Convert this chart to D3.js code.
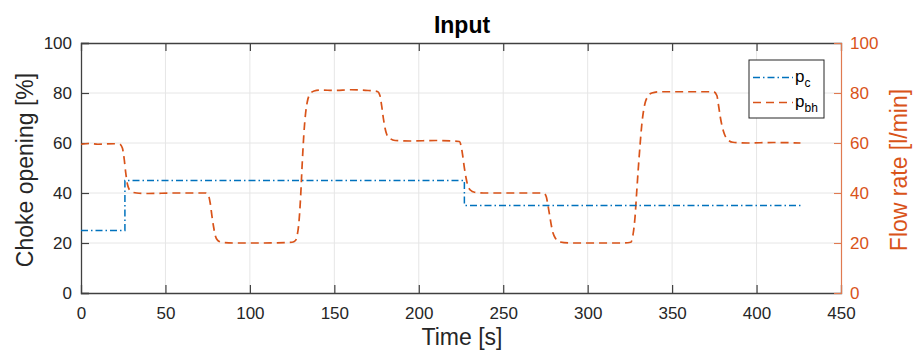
<!DOCTYPE html>
<html><head><meta charset="utf-8">
<script src="https://cdn.jsdelivr.net/npm/d3@7"></script>
<style>body{margin:0;background:#fff}svg{display:block}text{font-family:"Liberation Sans",Arial,sans-serif}</style>
</head><body><svg id="c" width="920" height="352"></svg>
<script>
const xTicks = [0,50,100,150,200,250,300,350,400,450];
const yTicks = [0,20,40,60,80,100];
const pcTime = [0,26,26,227,227,426];
const pcValue = [25,25,45,45,35,35];
const pbhTime = [0,5,10,20,23,24.5,25.5,26.5,27.5,28.5,30,33,40,55,74,75.5,76.5,77.5,78.5,79.5,81,84,90,105,125,127,128,129,130,131,132,133,134,135.5,138,142,150,160,170,175.5,177,178,179,180,181,183,186,195,210,224,225,226,227,228,229,230.5,233,240,255,274,275.5,276.5,277.5,278.5,279.5,281,283,290,300,320,325.5,327,328,329,330,331,332,333,334,335.5,338,342,360,374.5,376.5,377.5,378.5,379.5,381,383,386,395,410,426];
const pbhValue = [59.5,59.8,59.5,59.7,59.5,58,54,48,43.5,41.5,40.5,40,39.8,40,40,39,36,31,26.5,23,21,20.2,20,20,20.3,21,23,28,38,52,64,72,76.5,79.5,80.8,81.2,81,81.3,81,80.6,79,75,70,66,63.5,61.8,61,60.8,61,60.6,59,55,50,46,43,41.2,40.3,40,40,40,38.5,35,31,27,24,21.8,20.5,20,20,20,20.3,24,30,40,50,59,67,72.5,76,78.5,80,80.5,80.5,80.5,79,75,70.5,67,63.5,61.3,60.3,60,60.2,60];
const seriesNames = ["c","bh"];

const svg = d3.select("#c");
const L=81,R=841,T=43,B=293;
const x = d3.scaleLinear().domain([0,450]).range([L,R]);
const y = d3.scaleLinear().domain([0,100]).range([B,T]);
const y2 = d3.scaleLinear().domain([0,100]).range([B,T]);
const blue="#0072BD", orange="#D95319", axc="#404040";

// grid
const g = svg.append("g");
g.selectAll(".gx").data(xTicks.slice(1,-1)).join("line").attr("x1",d=>x(d)).attr("x2",d=>x(d)).attr("y1",T).attr("y2",B).attr("stroke","#e6e6e6").attr("stroke-width",1);
g.selectAll(".gy").data(yTicks.slice(1,-1)).join("line").attr("y1",d=>y(d)).attr("y2",d=>y(d)).attr("x1",L).attr("x2",R).attr("stroke","#e6e6e6").attr("stroke-width",1);

// axes
const fmt = d3.format("d");
const bx = svg.append("g").attr("transform",`translate(0,${B})`).call(d3.axisBottom(x).tickValues(xTicks).tickSize(-8).tickPadding(14).tickFormat(fmt));
const tx = svg.append("g").attr("transform",`translate(0,${T})`).call(d3.axisTop(x).tickValues(xTicks).tickSize(-8).tickFormat(""));
const ly = svg.append("g").attr("transform",`translate(${L},0)`).call(d3.axisLeft(y).tickValues(yTicks).tickSize(-8).tickPadding(9).tickFormat(fmt));
const ry = svg.append("g").attr("transform",`translate(${R},0)`).call(d3.axisRight(y2).tickValues(yTicks).tickSize(-7).tickPadding(9).tickFormat(fmt));
[bx,tx,ly].forEach(a=>{a.select(".domain").attr("stroke",axc).attr("stroke-width",1.3);a.selectAll(".tick line").attr("stroke",axc).attr("stroke-width",1.2);a.selectAll("text").attr("fill","#262626").style("font-size","17px");});
ry.select(".domain").attr("stroke","#E07A50").attr("stroke-width",1.2);
ry.selectAll(".tick line").attr("stroke","#E07A50").attr("stroke-width",1.1);
ry.selectAll("text").attr("fill",orange).style("font-size","17px");
bx.selectAll("text").attr("dy","0.71em");
tx.selectAll(".tick").filter(d=>d===0||d===450).select("line").remove();
bx.selectAll(".tick").filter(d=>d===0||d===450).select("line").remove();

// lines
const pcData = pcTime.map((t,i)=>[t,pcValue[i]]);
const pbhData = pbhTime.map((t,i)=>[t,pbhValue[i]]);
svg.append("path").datum(pbhData).attr("fill","none").attr("stroke",orange).attr("stroke-width",1.7).attr("stroke-dasharray","8,5")
  .attr("d",d3.line().x(d=>x(d[0])).y(d=>y2(d[1])).curve(d3.curveMonotoneX));
svg.append("path").datum(pcData).attr("fill","none").attr("stroke",blue).attr("stroke-width",1.5).attr("stroke-dasharray","7,3,1.5,3")
  .attr("d",d3.line().x(d=>x(d[0])).y(d=>y(d[1])));

// legend
const lg = svg.append("g");
lg.append("rect").attr("x",749).attr("y",60).attr("width",75).attr("height",58).attr("fill","#fff").attr("stroke","#262626").attr("stroke-width",1);
const legendItems=[{n:seriesNames[0],c:blue,da:"7,3,1.5,3",y:77.5},{n:seriesNames[1],c:orange,da:"8,5",y:102.5}];
legendItems.forEach(it=>{
  lg.append("line").attr("x1",753).attr("x2",793).attr("y1",it.y).attr("y2",it.y).attr("stroke",it.c).attr("stroke-width",1.5).attr("stroke-dasharray",it.da);
  const t=lg.append("text").attr("x",795).attr("y",it.y+4).style("font-size","17px").attr("fill","#000");
  t.append("tspan").text("p");
  t.append("tspan").attr("dy",5).style("font-size","12px").text(it.n);
});

// labels
svg.append("text").attr("x",462).attr("y",33).attr("text-anchor","middle").style("font-size","23px").style("font-weight","bold").attr("fill","#000").text("Input");
svg.append("text").attr("x",462).attr("y",345).attr("text-anchor","middle").style("font-size","23px").attr("fill","#262626").text("Time [s]");
svg.append("text").attr("transform","translate(33,170) rotate(-90)").attr("text-anchor","middle").style("font-size","23px").attr("fill","#262626").text("Choke opening [%]");
svg.append("text").attr("transform","translate(907,170) rotate(-90)").attr("text-anchor","middle").style("font-size","23px").attr("fill",orange).text("Flow rate [l/min]");
</script></body></html>
